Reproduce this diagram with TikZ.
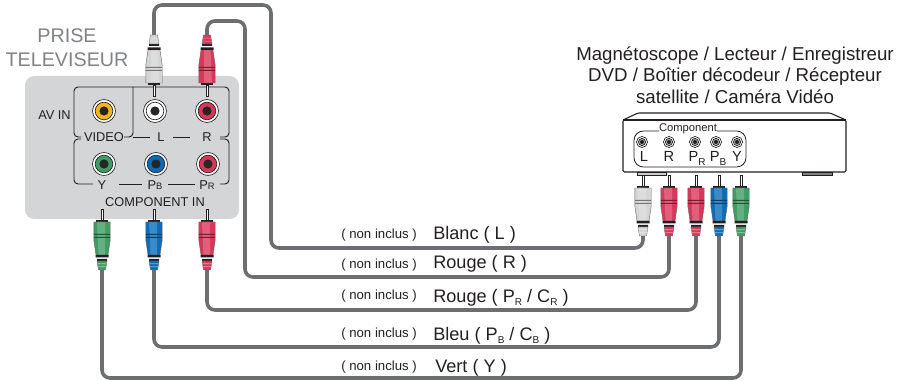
\documentclass[tikz,border=0pt]{standalone}
\usepackage{fontspec}
\setmainfont{Liberation Sans}
\definecolor{wiregrey}{HTML}{6D6E71}
\definecolor{panelgrey}{HTML}{D4D5D7}
\definecolor{inkgrey}{HTML}{231F20}
\definecolor{titlegrey}{HTML}{808285}
\definecolor{plugwhite}{HTML}{D4D5D6}
\definecolor{plugred}{HTML}{D8375A}
\definecolor{plugblue}{HTML}{0B6DB7}
\definecolor{pluggreen}{HTML}{3F9C62}
\definecolor{jackyellow}{HTML}{F7B618}
\newcommand{\lowtxt}[1]{\raisebox{-2.5pt}{\fontsize{7.5pt}{7.5pt}\selectfont #1}}
\tikzset{
	wire/.style={draw=wiregrey,line width=2.7pt,rounded corners=6pt},
	frameline/.style={draw=inkgrey,line width=0.7pt,rounded corners=3pt},
	txt/.style={inner sep=0pt,text=inkgrey},
	devicetxt/.style={txt,font=\fontsize{14pt}{16pt}\selectfont,align=center},
	cabletxt/.style={txt,anchor=base west,font=\fontsize{13.6pt}{15pt}\selectfont},
	noteltxt/.style={txt,anchor=base west,font=\fontsize{9.9pt}{11pt}\selectfont},
	paneltxt/.style={txt,font=\fontsize{9.6pt}{11pt}\selectfont},
	pics/rcaplug/.style={code={
		\draw[fill=white,draw=inkgrey,line width=0.3pt] (-1.3,0) rectangle (1.3,11);
		\fill[inkgrey] (-6,11) rectangle (6,13);
		\fill[#1] (-8.2,13) -- (8.2,13) -- (8.2,31) -- (6,46) -- (-6,46) -- (-8.2,31) -- cycle;
		\fill[#1!80!white] (-5,13) -- (3,13) -- (3,46) -- (-3.5,46) -- cycle;
		\draw[draw=inkgrey!70,line width=0.3pt] (-8.2,13) -- (8.2,13) -- (8.2,31) -- (6,46) -- (-6,46) -- (-8.2,31) -- cycle;
		\fill[#1!55!black] (-8.2,25) rectangle (8.2,26) (-8.2,28) rectangle (8.2,29);
		\fill[inkgrey] (-6.5,46) rectangle (6.5,48.5) (-5,50) rectangle (5,52);
		\draw[draw=inkgrey!70,line width=0.3pt,fill=#1] (-5,52) -- (5,52) -- (3.5,61) -- (-3.5,61) -- cycle;
		\fill[#1!50!white] (-4.6,54.5) rectangle (4.6,55.2) (-4.2,57.5) rectangle (4.2,58.2);
	}},
	pics/avjack/.style={code={
		\draw[fill=white,draw=inkgrey,line width=0.5pt] (0,0) circle (11.5);
		\draw[fill=#1,draw=inkgrey,line width=0.5pt] (0,0) circle (8.8);
		\fill[black!85] (0,0) circle (4.6);
	}},
	pics/outjack/.style={code={
		\draw[fill=white,draw=inkgrey,line width=0.5pt] (0,0) circle (5.5);
		\draw[fill=black!35,draw=inkgrey,line width=0.5pt] (0,0) circle (3.6);
		\fill[inkgrey] (0,0) circle (2);
	}}
}
\begin{document}
\begin{tikzpicture}[x=0.75pt,y=-0.75pt]
	\useasboundingbox (0,0) rectangle (904,381);
	% tv side
	\fill[panelgrey,rounded corners=7pt] (25,76) rectangle (239,219);
	\node[txt,text=titlegrey,align=center,font=\fontsize{14.8pt}{18pt}\selectfont] (title) at (67,48) {PRISE\\TELEVISEUR};
	\node[paneltxt,anchor=east] (avin) at (71,115) {AV IN};
	\node[paneltxt] (video) at (104,137) {VIDEO};
	\node[paneltxt] (inL) at (161,137) {L};
	\node[paneltxt] (inR) at (207,137) {R};
	\node[paneltxt] (inY) at (102,185) {Y};
	\node[paneltxt] (inPB) at (155,185) {P{\fontsize{7pt}{7pt}\selectfont B}};
	\node[paneltxt] (inPR) at (207,185) {P{\fontsize{7pt}{7pt}\selectfont R}};
	\node[paneltxt] (compin) at (155,202) {COMPONENT IN};
	\draw[frameline] (81,137) -- (74,137) -- (74,87) -- (229,87) -- (229,137) -- (220,137);
	\draw[frameline] (124,137) -- (133,137) -- (133,87);
	\draw[frameline,rounded corners=0pt] (133,137) -- (150,137) (173,137) -- (190,137);
	\draw[frameline] (81,139) -- (74,139) -- (74,184) -- (93,184);
	\draw[frameline,rounded corners=0pt] (119,184) -- (142,184) (168,184) -- (195,184);
	\draw[frameline] (220,184) -- (229,184) -- (229,139) -- (220,139);
	\pic at (104,111) {avjack=jackyellow};
	\pic at (155,111) {avjack=white};
	\pic at (207,111) {avjack=plugred};
	\pic at (104,164) {avjack=pluggreen};
	\pic at (156,164) {avjack=plugblue};
	\pic at (208,164) {avjack=plugred};
	% recorder
	\node[devicetxt] (device) at (735,75) {Magnétoscope / Lecteur / Enregistreur\\DVD / Boîtier décodeur / Récepteur\\satellite / Caméra Vidéo};
	\draw[draw=inkgrey,line width=0.8pt,fill=white,rounded corners=1pt] (623,120) -- (638,113) -- (830,113) -- (846,120) -- (846,172) -- (623,172) -- cycle;
	\draw[draw=inkgrey,line width=0.8pt] (623,120) -- (846,120);
	\draw[draw=inkgrey,line width=0.6pt,fill=titlegrey!40] (637,172) rectangle (666,175);
	\draw[draw=inkgrey,line width=0.6pt,fill=titlegrey] (802,172) rectangle (832,175);
	\node[txt,font=\fontsize{8.4pt}{9pt}\selectfont] (comp) at (688,128.5) {Component};
	\draw[frameline,rounded corners=7pt,line width=0.6pt] (659,131) -- (634,131) -- (634,167) -- (746,167) -- (746,131) -- (717,131);
	\pic at (642,142) {outjack};
	\pic at (669,142) {outjack};
	\pic at (695,142) {outjack};
	\pic at (716,142) {outjack};
	\pic at (737,142) {outjack};
	\node[txt,font=\fontsize{11pt}{12pt}\selectfont,anchor=base] (outL) at (644,162) {L};
	\node[txt,font=\fontsize{11pt}{12pt}\selectfont,anchor=base] (outR) at (669,162) {R};
	\node[txt,font=\fontsize{11pt}{12pt}\selectfont,anchor=base] (outPR) at (697,162) {P\lowtxt{R}};
	\node[txt,font=\fontsize{11pt}{12pt}\selectfont,anchor=base] (outPB) at (718,162) {P\lowtxt{B}};
	\node[txt,font=\fontsize{11pt}{12pt}\selectfont,anchor=base] (outY) at (737,162) {Y};
	% plug ends and wire corners
	\coordinate (tvL) at (154,36);
	\coordinate (tvR) at (207,36);
	\coordinate (tvY) at (102,269);
	\coordinate (tvPB) at (154,269);
	\coordinate (tvPR) at (207,269);
	\coordinate (recL) at (643,235);
	\coordinate (recR) at (669,235);
	\coordinate (recPR) at (696,235);
	\coordinate (recPB) at (719,235);
	\coordinate (recY) at (741,235);
	\coordinate (topL) at (271,5);
	\coordinate (topR) at (245,21);
	\coordinate (runL) at (271,248);
	\coordinate (runR) at (245,277);
	\draw[wire] (tvL) |- (topL) -- (runL) -| (recL);
	\draw[wire] (tvR) |- (topR) -- (runR) -| (recR);
	\draw[wire] (tvPR) |- (recPR |- 0,310) -- (recPR);
	\draw[wire] (tvPB) |- (recPB |- 0,347) -- (recPB);
	\draw[wire] (tvY) |- (recY |- 0,378) -- (recY);
	% plugs
	\pic[rotate=180] at (154,96) {rcaplug=plugwhite};
	\pic[rotate=180] at (207,96) {rcaplug=plugred};
	\pic at (102,209) {rcaplug=pluggreen};
	\pic at (154,209) {rcaplug=plugblue};
	\pic at (207,209) {rcaplug=plugred};
	\pic at (643,175) {rcaplug=plugwhite};
	\pic at (669,175) {rcaplug=plugred};
	\pic at (696,175) {rcaplug=plugred};
	\pic at (719,175) {rcaplug=plugblue};
	\pic at (741,175) {rcaplug=pluggreen};
	% cable labels
	\node[noteltxt] (noteL) at (341,239) {( non inclus )};
	\node[noteltxt] (noteR) at (341,268) {( non inclus )};
	\node[noteltxt] (notePR) at (341,300) {( non inclus )};
	\node[noteltxt] (notePB) at (341,338) {( non inclus )};
	\node[noteltxt] (noteY) at (341,370) {( non inclus )};
	\node[cabletxt] (cableL) at (433,240) {Blanc ( L )};
	\node[cabletxt] (cableR) at (433,269) {Rouge ( R )};
	\node[cabletxt] (cablePR) at (433,302) {Rouge ( P\lowtxt{R} / C\lowtxt{R} )};
	\node[cabletxt] (cablePB) at (433,340) {Bleu ( P\lowtxt{B} / C\lowtxt{B} )};
	\node[cabletxt] (cableY) at (435,373) {Vert ( Y )};
\end{tikzpicture}
\end{document}
